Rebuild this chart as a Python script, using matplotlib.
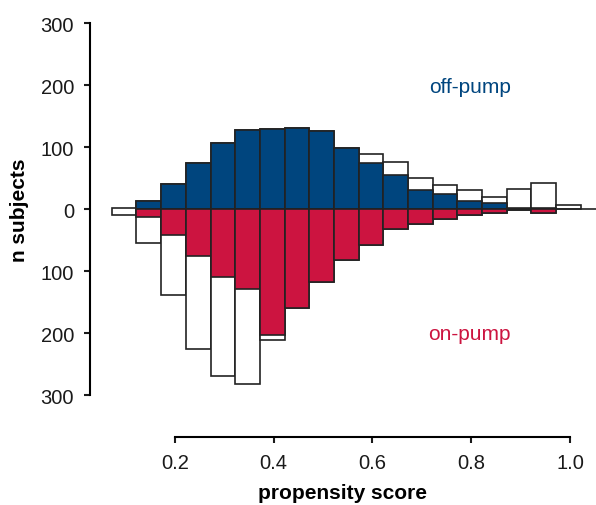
import numpy as np
import matplotlib
matplotlib.use("Agg")
import matplotlib.pyplot as plt

plt.rcParams["font.family"] = ["Liberation Sans", "DejaVu Sans"]

# bin left edges of the propensity score histogram (width 0.05)
bin_left = np.round(0.072 + 0.05 * np.arange(19), 3)
bin_width = 0.05

# off-pump: all subjects and matched subjects per bin
off_total = [1, 13, 40, 75, 107, 127, 129, 131, 126, 98, 88, 76, 50, 39, 30, 19, 33, 42, 7]
off_matched = [0, 13, 40, 75, 107, 127, 129, 131, 126, 98, 75, 55, 31, 24, 13, 9, 1, 1, 0]

# on-pump: all subjects and matched subjects per bin
on_total = [9, 55, 139, 226, 270, 283, 211, 160, 118, 83, 58, 33, 24, 16, 9, 6, 2, 6, 0]
on_matched = [0, 13, 42, 75, 110, 129, 203, 160, 118, 83, 58, 33, 24, 16, 9, 6, 2, 6, 0]

blue = "#00457e"
red = "#cc1440"
edge = "#222222"

fig = plt.figure(figsize=(5.96, 5.06), dpi=100)
ax = fig.add_axes([90 / 596, 110 / 506, 506 / 596, 372 / 506])

off_total = np.array(off_total)
on_total = np.array(on_total)
off_matched = np.array(off_matched)
on_matched = np.array(on_matched)

# unmatched totals as white boxes spanning both sides
ax.bar(bin_left, off_total + on_total, bottom=-on_total, width=bin_width,
       align="edge", color="white", edgecolor=edge, linewidth=1.2, zorder=1)

# baseline
ax.plot([bin_left[1], 1.06], [0, 0], color=edge, linewidth=1.2, zorder=2)

# matched subjects
m = off_matched > 0
ax.bar(bin_left[m], off_matched[m], width=bin_width, align="edge",
       color=blue, edgecolor=edge, linewidth=1.2, zorder=3)
m = on_matched > 0
ax.bar(bin_left[m], -on_matched[m], width=bin_width, align="edge",
       color=red, edgecolor=edge, linewidth=1.2, zorder=3)

ax.text(0.797, 198, "off-pump", color=blue, fontsize=15, ha="center", va="center")
ax.text(0.797, -200, "on-pump", color=red, fontsize=15, ha="center", va="center")

ax.set_xlim(0.2 - 85 / 493.75, 0.2 + 421 / 493.75)
ax.set_ylim(-300, 300)

yt = [300, 200, 100, 0, -100, -200, -300]
ax.set_yticks(yt)
ax.set_yticklabels([str(abs(v)) for v in yt])
ax.set_xticks([0.2, 0.4, 0.6, 0.8, 1.0])
ax.set_xticklabels(["0.2", "0.4", "0.6", "0.8", "1.0"])

for s in ["top", "right"]:
    ax.spines[s].set_visible(False)
ax.spines["left"].set_bounds(-300, 300)
ax.spines["bottom"].set_bounds(0.2, 1.0)
ax.spines["bottom"].set_position(("outward", 30))
ax.spines["left"].set_linewidth(1.5)
ax.spines["bottom"].set_linewidth(1.5)
ax.tick_params(direction="out", length=4.5, width=1.5, labelsize=14.5, pad=7,
               colors="#1a1a1a")

ax.set_xlabel("propensity score", fontsize=15, fontweight="bold", labelpad=8.5)
ax.set_ylabel("n subjects", fontsize=15, fontweight="bold", labelpad=8)

fig.savefig("out.png", dpi=100)
